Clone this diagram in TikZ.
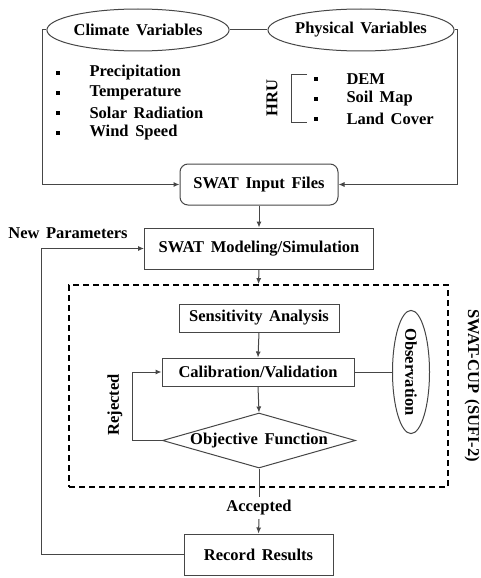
\documentclass[tikz,border=0pt]{standalone}
\usepackage{fontspec}
\setmainfont{Liberation Serif}
\usetikzlibrary{shapes.geometric,arrows.meta}
\definecolor{linegray}{RGB}{70,70,70}
\newcommand\widesp{\spaceskip=0.4em plus 0.1em\relax}
\tikzset{
  every node/.style={font=\fontsize{16.5}{19}\selectfont\bfseries\widesp},
  box/.style={draw=linegray, line width=1pt, inner sep=0pt},
  oval/.style={ellipse, draw=linegray, line width=1pt, inner sep=0pt},
  con/.style={draw=linegray, line width=1pt},
  arr/.style={con, -{Latex[length=6pt,width=5pt]}},
  dot/.style={fill=black, inner sep=0pt, minimum size=3.5pt},
}
\begin{document}
\begin{tikzpicture}[x=1pt,y=-1pt]
\useasboundingbox (0,0) rectangle (481,578);
% input data
\node[oval, minimum width=156, minimum height=42] (climate) at (138,30) {Climate Variables};
\node[oval, minimum width=156, minimum height=42] (physical) at (361,30) {Physical Variables};
\foreach \t [count=\i] in {Precipitation,Temperature,Solar Radiation,Wind Speed}{
  \node[dot] (cdot\i) at (58,53+20*\i) {};
  \node[anchor=west] (citem\i) at (86,53+20*\i) {\t};
}
\node[rotate=90] (hru) at (272,98) {HRU};
\draw[con] (307,74) -- (291,74) -- (291,122) -- (307,122);
\foreach \t [count=\i] in {DEM,Soil Map,Land Cover}{
  \node[dot] (pdot\i) at (316,59+20*\i) {};
  \node[anchor=west] (pitem\i) at (343,59+20*\i) {\t};
}
% SWAT run
\node[box, rounded corners=8pt, minimum width=158, minimum height=41] (input) at (259,184.5) {SWAT Input Files};
\node[box, minimum width=229, minimum height=41] (modeling) at (259,248.5) {SWAT Modeling/Simulation};
\node (newpar) at (68,233) {New Parameters};
\coordinate (lcorner) at (42,30);
\coordinate (rcorner) at (457,30);
\draw[arr] (climate.west) -- (lcorner) |- (input.west);
\draw[con] (climate.east) -- (physical.west);
\draw[arr] (physical.east) -- (rcorner) |- (input.east);
\draw[arr] (input.south) -- (modeling.north);
% SWAT-CUP
\node[box, draw=black, line width=1.8pt, dash pattern=on 6pt off 4pt, minimum width=379, minimum height=202] (cup) at (258.5,386) {};
\node[rotate=-90] (cuplabel) at (472,386) {SWAT-CUP (SUFI-2)};
\draw[arr] (modeling.south) -- (cup.north);
\node[box, minimum width=160, minimum height=28] (sens) at (259,318) {Sensitivity Analysis};
\node[box, minimum width=192, minimum height=28] (calib) at (258,372) {Calibration/Validation};
\node[oval, rotate=-90, minimum width=120, minimum height=37] (obs) at (411,372) {Observation};
\node[box, diamond, aspect=3.5, minimum width=193, minimum height=55] (objective) at (259,440.5) {Objective Function};
\draw[arr] (sens.south) -- (calib.north);
\draw[con] (calib.east) -- (obs.south);
\draw[arr] (calib.south) -- (objective.north);
\coordinate (rej) at (132,440.5);
\draw[arr] (objective.west) -- (rej) |- (calib.west);
\node[rotate=90] (rejected) at (115,405) {Rejected};
% results
\node (accepted) at (259,508) {Accepted};
\node[box, minimum width=149, minimum height=41] (record) at (258.5,554.5) {Record Results};
\draw[con] (objective.south) -- (accepted.north);
\draw[arr] (accepted.south) -- (record.north);
\coordinate (loop) at (41,554.5);
\draw[arr] (record.west) -- (loop) |- (modeling.west);
\end{tikzpicture}
\end{document}
